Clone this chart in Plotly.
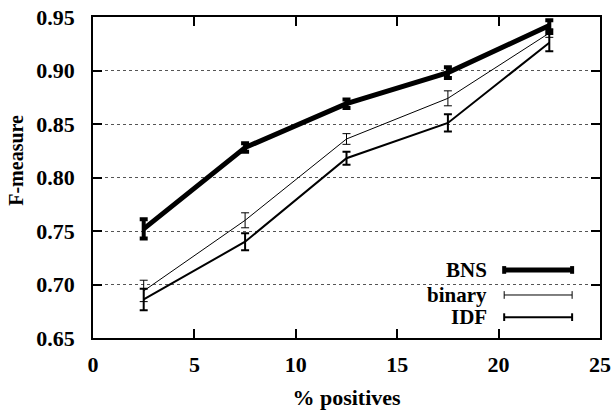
import plotly.graph_objects as go

x_pos = [2.5, 7.5, 12.5, 17.5, 22.5]
bns = [0.752, 0.828, 0.869, 0.898, 0.942]
bns_err = [0.009, 0.004, 0.004, 0.005, 0.005]
binary = [0.694, 0.760, 0.836, 0.874, 0.935]
binary_err = [0.010, 0.007, 0.005, 0.007, 0.004]
idf = [0.686, 0.740, 0.818, 0.851, 0.926]
idf_err = [0.010, 0.008, 0.006, 0.008, 0.008]
x_ticks = [0, 5, 10, 15, 20, 25]
y_ticks = [0.65, 0.70, 0.75, 0.80, 0.85, 0.90, 0.95]
series_names = ["BNS", "binary", "IDF"]

FONT = dict(family="Liberation Serif", size=22, color="black", weight="bold")
LEG_FONT = dict(family="Liberation Serif", size=21, color="black", weight="bold")
YT_FONT = dict(family="Liberation Serif", size=20, color="black", weight="bold")

fig = go.Figure()
styles = [(5, 4, 4), (1, 1, 4), (2, 2, 4)]
for name, ys, es, (lw, et, ew) in zip(series_names, [bns, binary, idf],
                                      [bns_err, binary_err, idf_err], styles):
    fig.add_trace(go.Scatter(
        x=x_pos, y=ys, mode="lines", name=name,
        line=dict(color="black", width=lw),
        error_y=dict(type="data", array=es, visible=True, color="black",
                     thickness=et, width=ew),
        showlegend=False,
    ))

# legend box (white, covers gridlines)
fig.add_shape(type="rect", xref="paper", yref="paper", x0=0.61, x1=0.976,
              y0=0.02, y1=0.25, fillcolor="white", line=dict(width=0),
              layer="between")
leg_y = [0.212, 0.134, 0.065]
leg_w = [5, 1, 2]
leg_cap = [4, 1, 2]
for name, yy, lw, cw in zip(series_names, leg_y, leg_w, leg_cap):
    fig.add_annotation(text=name, xref="paper", yref="paper", x=0.781, y=yy,
                       xanchor="right", yanchor="middle", showarrow=False,
                       font=LEG_FONT)
    fig.add_shape(type="line", xref="paper", yref="paper", x0=0.811, x1=0.945,
                  y0=yy, y1=yy, line=dict(color="black", width=lw))
    for xx in (0.811, 0.945):
        fig.add_shape(type="line", xref="paper", yref="paper", x0=xx, x1=xx,
                      y0=yy - 0.012, y1=yy + 0.012,
                      line=dict(color="black", width=cw))

# y-axis title
fig.add_annotation(text="F-measure", xref="paper", yref="paper", x=-0.152,
                   y=0.555, xanchor="center", yanchor="middle",
                   textangle=-90, showarrow=False, font=YT_FONT)

axis_common = dict(showline=True, linecolor="black", linewidth=1.5,
                   mirror="allticks", ticks="inside", ticklen=9,
                   tickcolor="black", tickwidth=1.5, zeroline=False,
                   tickfont=FONT, automargin=False)
fig.update_xaxes(range=[0, 25], tickvals=x_ticks, showgrid=False,
                 title=dict(text="% positives", font=FONT, standoff=14),
                 ticklabelstandoff=6, **axis_common)
fig.update_yaxes(range=[0.65, 0.95], tickvals=y_ticks,
                 ticktext=[f"{v:.2f}" for v in y_ticks],
                 showgrid=True, gridcolor="#555555", griddash="dot",
                 gridwidth=1, ticklabelstandoff=12, **axis_common)
fig.update_layout(width=614, height=410,
                  margin=dict(l=93, r=14, t=17, b=72),
                  plot_bgcolor="white", paper_bgcolor="white",
                  font=FONT)
fig.write_html("out.html", config={"displayModeBar": False},
               post_script="document.body.style.margin='0';")
